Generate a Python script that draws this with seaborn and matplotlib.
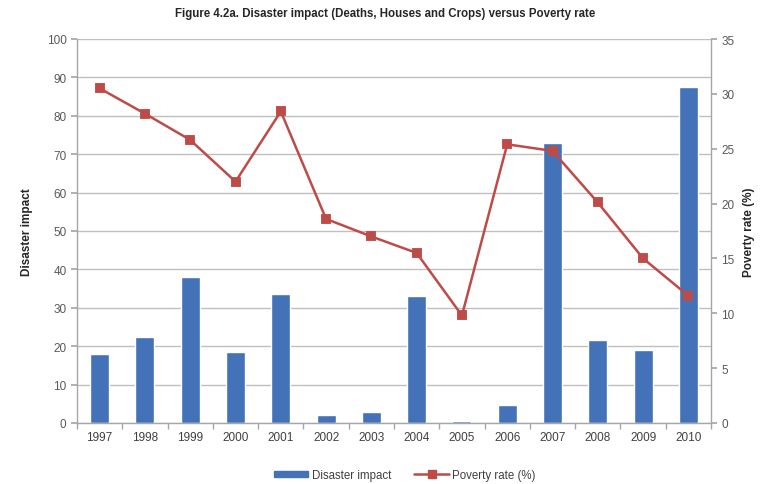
import matplotlib
matplotlib.use("Agg")
import matplotlib.pyplot as plt
import seaborn as sns
import numpy as np
import pandas as pd
from matplotlib.lines import Line2D
from matplotlib.patches import Patch
from matplotlib.ticker import MultipleLocator, FixedLocator

years = ["1997", "1998", "1999", "2000", "2001", "2002", "2003",
         "2004", "2005", "2006", "2007", "2008", "2009", "2010"]
disaster_impact = [18.0, 22.5, 38.0, 18.5, 33.5, 2.0, 2.8,
                   33.2, 0.5, 4.8, 73.0, 21.7, 19.0, 87.5]
poverty_rate = [30.5, 28.2, 25.8, 22.0, 28.4, 18.6, 17.0,
                15.5, 9.8, 25.4, 24.8, 20.1, 15.0, 11.6]

df = pd.DataFrame({"year": years, "impact": disaster_impact, "poverty": poverty_rate})

sns.set_theme(style="white")
plt.rcParams["font.family"] = ["Liberation Sans", "DejaVu Sans"]

bar_color = "#4472B8"
line_color = "#BE4B48"
tick_color = "#595959"
spine_color = "#A6A6A6"

fig = plt.figure(figsize=(7.71, 4.85), dpi=100)
ax = fig.add_axes([77 / 771, 1 - 424 / 485, (711 - 77) / 771, (424 - 40) / 485])

sns.barplot(data=df, x="year", y="impact", order=years, color=bar_color,
            width=0.42, saturation=1, ax=ax, zorder=2)
ax.set_ylim(0, 100)
ax.set_xlim(-0.5, len(years) - 0.5)
ax.yaxis.set_major_locator(MultipleLocator(10))
ax.grid(axis="y", color="#BFBFBF", linewidth=1.0, zorder=0)
ax.set_axisbelow(True)

ax2 = ax.twinx()
sns.pointplot(data=df, x="year", y="poverty", order=years, color=line_color,
              markers="s", markersize=6, linewidth=1.8, ax=ax2)
ax2.set_ylim(0, 35)
ax2.set_xlim(-0.5, len(years) - 0.5)
ax2.yaxis.set_major_locator(MultipleLocator(5))

for a in (ax, ax2):
    for s in a.spines.values():
        s.set_color(spine_color)
        s.set_linewidth(1.0)
    a.spines["top"].set_visible(False)

ax.spines["right"].set_visible(False)
ax2.spines["left"].set_visible(False)
ax2.spines["bottom"].set_visible(False)

ax.tick_params(axis="y", length=4, color=spine_color, labelsize=8.5, labelcolor=tick_color, direction="out", left=True)
ax2.tick_params(axis="y", length=4, color=spine_color, labelsize=8.5, labelcolor=tick_color, direction="out", right=True)
ax.tick_params(axis="x", which="major", length=0, labelsize=8.5, labelcolor="#404040", pad=6)
ax.xaxis.set_minor_locator(FixedLocator(np.arange(-0.5, len(years), 1.0)))
ax.tick_params(axis="x", which="minor", length=4, color=spine_color, direction="out", bottom=True)

ax.set_xlabel("")
ax.set_ylabel("Disaster impact", fontsize=8.5, fontweight="bold", color="#262626", labelpad=10)
ax2.set_ylabel("Poverty rate (%)", fontsize=8.5, fontweight="bold", color="#262626", labelpad=6)

fig.text(0.5, 1 - 14 / 485, "Figure 4.2a. Disaster impact (Deaths, Houses and Crops) versus Poverty rate",
         ha="center", va="center", fontsize=8.3, fontweight="bold", color="#262626")

handles = [Patch(facecolor=bar_color, edgecolor=bar_color),
           Line2D([0], [0], color=line_color, marker="s", markersize=6, linewidth=1.8)]
fig.legend(handles, ["Disaster impact", "Poverty rate (%)"], loc="center",
           bbox_to_anchor=(0.525, 1 - 476 / 485), ncol=2, frameon=False,
           fontsize=8.3, labelcolor="#404040", handlelength=3, columnspacing=2.0,
           handletextpad=0.3, handleheight=0.5)

fig.savefig("out.png", dpi=100)
